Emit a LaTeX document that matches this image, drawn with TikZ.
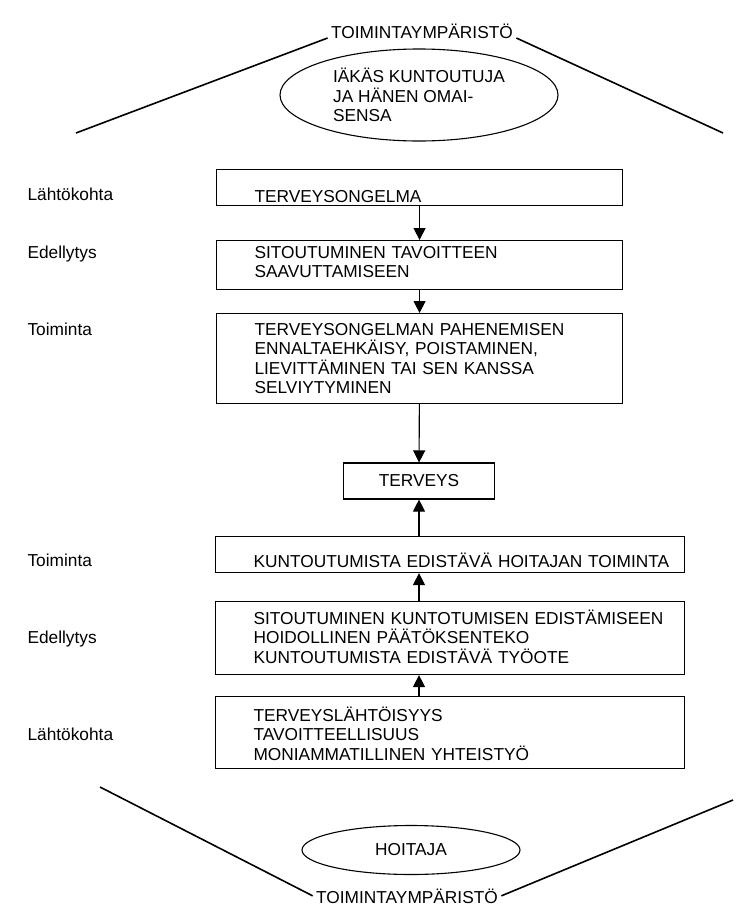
\documentclass[tikz,border=0pt]{standalone}
\usepackage{fontspec}
\setmainfont{Liberation Sans}
\usetikzlibrary{arrows.meta,shapes.geometric}
\tikzset{stage/.style={draw, line width=1.1pt, anchor=north west, align=left,
  inner xsep=6pt, inner ysep=0pt, execute at begin node={\leftskip=32pt}},
  flow/.style={line width=1.1pt, -{Triangle[width=12pt,length=12pt]}},
  slope/.style={line width=1.6pt},
  side/.style={anchor=base west}}

\begin{document}
\begin{tikzpicture}[x=1pt, y=-1pt, font=\fontsize{17.3}{19.4}\selectfont]
  \useasboundingbox (0,0) rectangle (741,913);
  \node[anchor=base] (envtop) at (422,38) {TOIMINTAYMPÄRISTÖ};
  \node[draw, ellipse, line width=1.1pt, minimum width=278pt, minimum height=92pt,
    inner sep=0pt, align=left] (client) at (419,95)
    {IÄKÄS KUNTOUTUJA\\JA HÄNEN OMAI-\\SENSA};
  \coordinate (tl) at (76,133);
  \coordinate (tr) at (723,133);
  \draw[slope] (tl) -- (envtop.base west);
  \draw[slope] (envtop.base east) -- (tr);

  \node[stage, text width=394pt, text height=33pt, text depth=3pt] (b1) at (216,169)
    {TERVEYSONGELMA};
  \node[stage, text width=394pt, text height=18pt, text depth=31pt] (b2) at (216,240)
    {SITOUTUMINEN TAVOITTEEN\\SAAVUTTAMISEEN};
  \node[stage, text width=394pt, text height=22pt, text depth=68pt] (b3) at (216,313)
    {TERVEYSONGELMAN PAHENEMISEN\\ENNALTAEHKÄISY, POISTAMINEN,\\
     LIEVITTÄMINEN TAI SEN KANSSA\\SELVIYTYMINEN};
  \node[draw, line width=1.1pt, minimum width=151pt, minimum height=36pt] (terveys)
    at (419,481) {TERVEYS};
  \node[stage, text width=457pt, text height=31pt, text depth=5pt] (b4) at (215,536)
    {KUNTOUTUMISTA EDISTÄVÄ HOITAJAN TOIMINTA};
  \node[stage, text width=457pt, text height=23pt, text depth=50pt] (b5) at (215,601)
    {SITOUTUMINEN KUNTOTUMISEN EDISTÄMISEEN\\HOIDOLLINEN PÄÄTÖKSENTEKO\\
     KUNTOUTUMISTA EDISTÄVÄ TYÖOTE};
  \node[stage, text width=457pt, text height=25pt, text depth=47pt] (b6) at (215,696)
    {TERVEYSLÄHTÖISYYS\\TAVOITTEELLISUUS\\MONIAMMATILLINEN YHTEISTYÖ};

  \draw[flow] (b1) -- (b2);
  \draw[flow] (b2) -- (b3);
  \draw[flow] (b3) -- (terveys);
  \draw[flow] (b4.north -| terveys) -- (terveys);
  \draw[flow] (b5.north -| terveys) -- (b4.south -| terveys);
  \draw[flow] (b6.north -| terveys) -- (b5.south -| terveys);

  \node[side] (s1) at (24,200) {Lähtökohta};
  \node[side] (s2) at (24,258) {Edellytys};
  \node[side] (s3) at (24,335) {Toiminta};
  \node[side] (s4) at (24,566) {Toiminta};
  \node[side] (s5) at (24,643) {Edellytys};
  \node[side] (s6) at (24,740) {Lähtökohta};

  \node[draw, ellipse, line width=1.1pt, minimum width=218pt, minimum height=49pt]
    (nurse) at (411,850) {HOITAJA};
  \node[anchor=base] (envbot) at (407,903) {TOIMINTAYMPÄRISTÖ};
  \coordinate (bl) at (100,787);
  \coordinate (br) at (733,800);
  \draw[slope] (bl) -- (envbot.west);
  \draw[slope] (envbot.east) -- (br);
\end{tikzpicture}
\end{document}
